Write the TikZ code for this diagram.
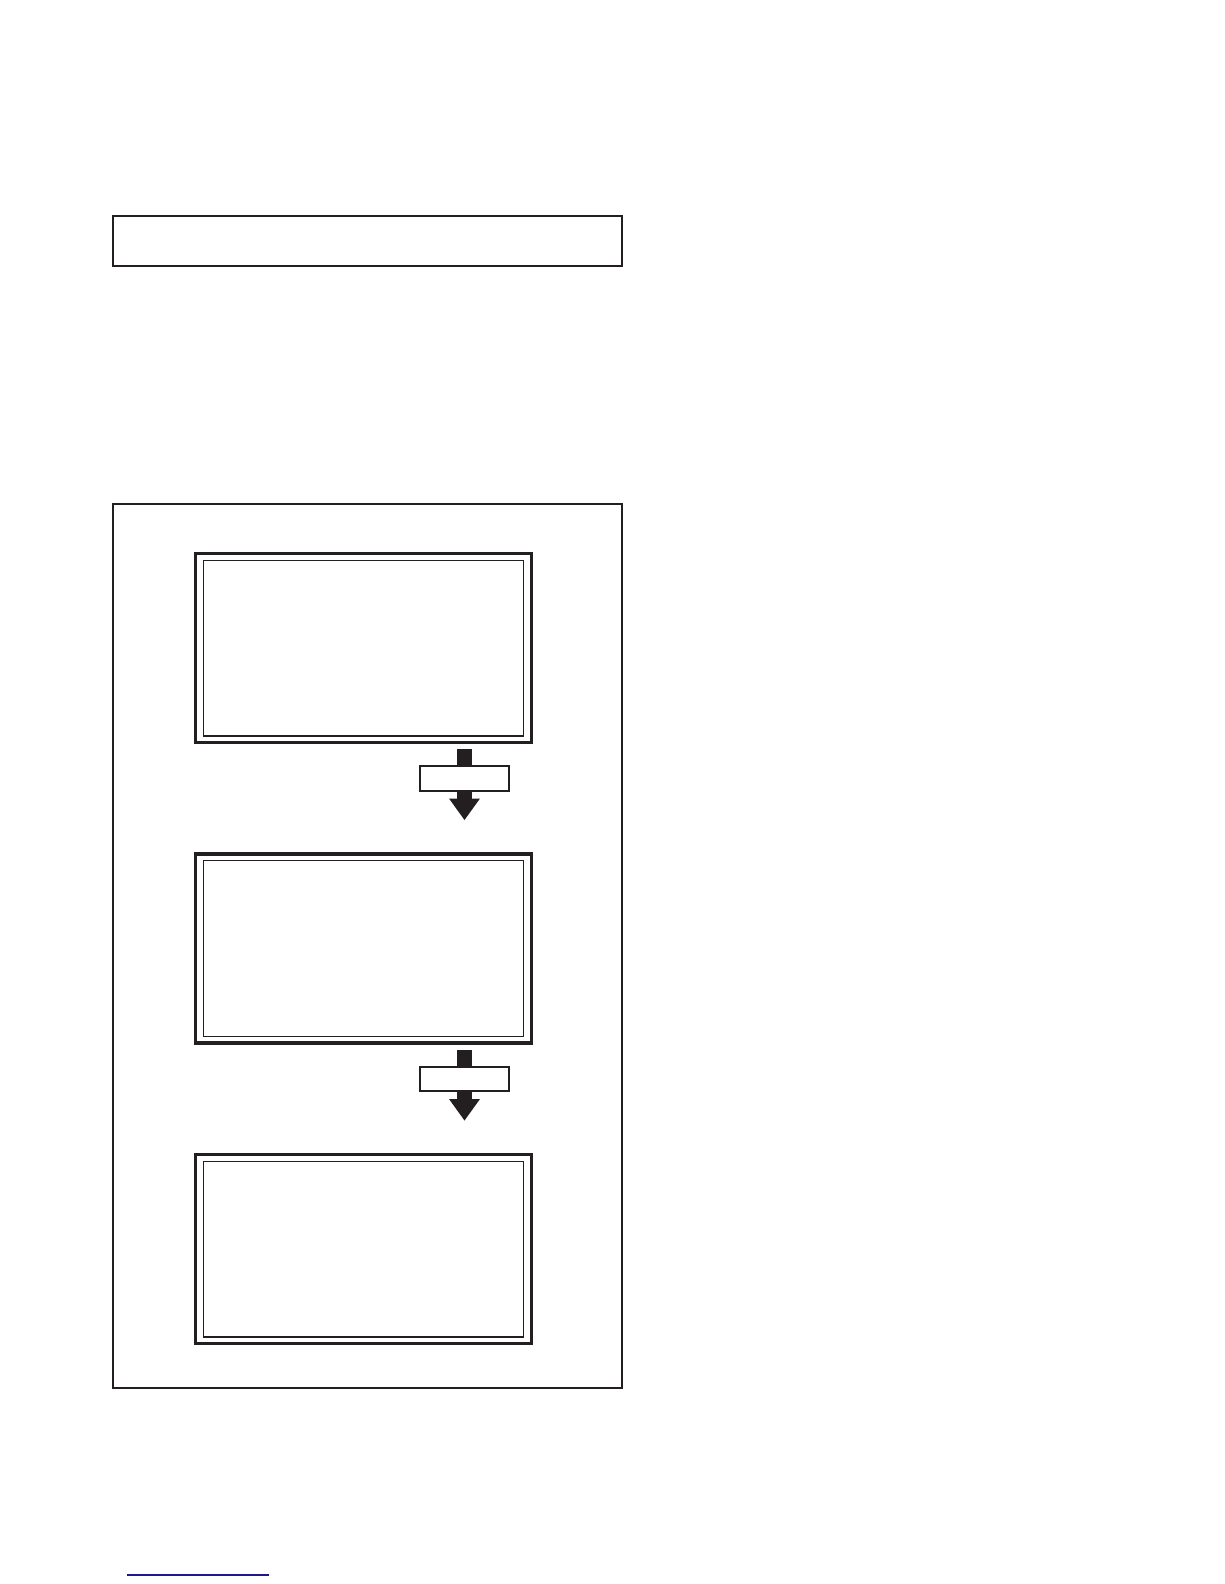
\documentclass[tikz,border=0pt]{standalone}
\usetikzlibrary{calc}
\definecolor{ink}{HTML}{231F20}
\definecolor{linkblue}{HTML}{1A1A8C}
\begin{document}
\begin{tikzpicture}[x=1pt,y=-1pt,
  plainbox/.style={draw=ink,line width=2pt,fill=none},
  stagebox/.style={draw=ink,line width=3.3pt,rectangle,inner sep=0pt,minimum width=335.9pt,minimum height=188.8pt},
  innerline/.style={draw=ink,line width=1.3pt},
  labelbox/.style={draw=ink,fill=white,line width=2pt,rectangle,inner sep=0pt,minimum width=89pt,minimum height=24.4pt},
  arrowink/.style={fill=ink,draw=none}]
\useasboundingbox (0,0) rectangle (1224,1584);
% top box
\node[plainbox,rectangle,inner sep=0pt,minimum width=508.5pt,minimum height=50pt] (top) at (367.25,240.5) {};
% big frame
\node[plainbox,rectangle,inner sep=0pt,minimum width=508.5pt,minimum height=884pt] (frame) at (367.25,946) {};
% stage boxes
\foreach \n/\y in {b1/648,b2/948.5,b3/1249}{
  \node[stagebox] (\n) at (363.5,\y) {};
  \draw[innerline] ([shift={(9.4pt,-8.2pt)}]\n.north west) rectangle ([shift={(-9.4pt,8.2pt)}]\n.south east);
}
% arrows between boxes
\foreach \a/\b/\y in {b1/b2/648,b2/b3/948.5}{
  \coordinate (st-\a) at (464.5,\y+101);
  \coordinate (hd-\a) at (464.5,\y+150.5);
  \coordinate (tp-\a) at (464.5,\y+172);
  \fill[arrowink] ($(st-\a)+(-7.5,0)$) rectangle ($(hd-\a)+(7.5,0)$);
  \fill[arrowink] ($(hd-\a)+(-15.5,0)$) -- ($(hd-\a)+(15.5,0)$) -- (tp-\a) -- cycle;
  \node[labelbox] (lab-\a) at (464.8,\y+130.5) {};
}
% blue rule at bottom
\coordinate (ruleA) at (127,1575);
\coordinate (ruleB) at (269,1575);
\draw[linkblue,line width=1.3pt] (ruleA) -- (ruleB);
\end{tikzpicture}
\end{document}
